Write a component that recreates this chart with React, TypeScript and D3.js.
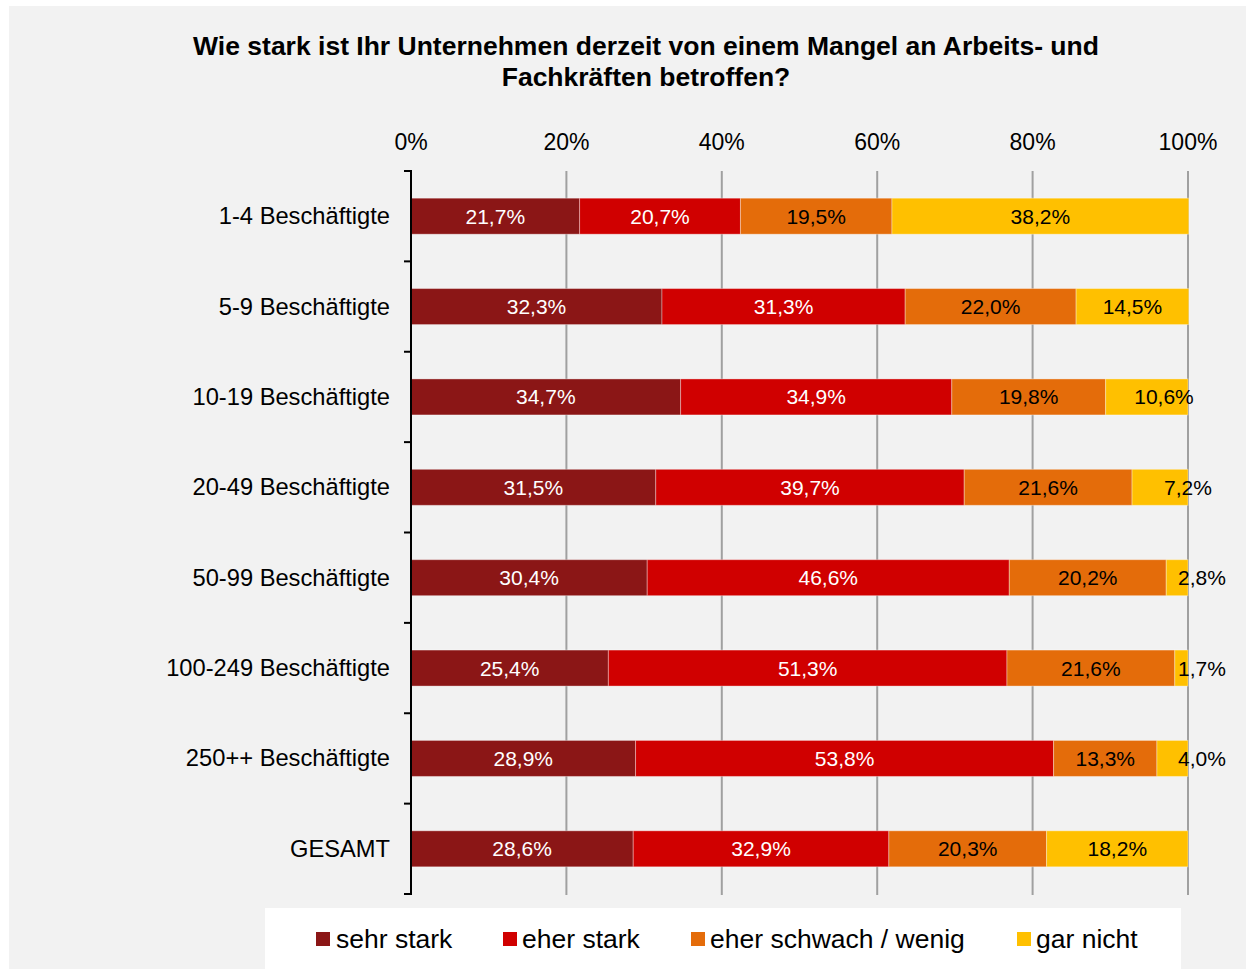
import React from "react";
import * as d3 from "d3";

const categories = [
  "1-4 Beschäftigte",
  "5-9 Beschäftigte",
  "10-19 Beschäftigte",
  "20-49 Beschäftigte",
  "50-99 Beschäftigte",
  "100-249 Beschäftigte",
  "250++ Beschäftigte",
  "GESAMT",
];
const seriesNames = ["sehr stark", "eher stark", "eher schwach / wenig", "gar nicht"];
const sehrStark = [21.7, 32.3, 34.7, 31.5, 30.4, 25.4, 28.9, 28.6];
const eherStark = [20.7, 31.3, 34.9, 39.7, 46.6, 51.3, 53.8, 32.9];
const eherSchwach = [19.5, 22.0, 19.8, 21.6, 20.2, 21.6, 13.3, 20.3];
const garNicht = [38.2, 14.5, 10.6, 7.2, 2.8, 1.7, 4.0, 18.2];
const tickValues = [0, 20, 40, 60, 80, 100];
const titleLines = [
  "Wie stark ist Ihr Unternehmen derzeit von einem Mangel an Arbeits- und",
  "Fachkräften betroffen?",
];

const colors = ["#8b1616", "#d00000", "#e46c0a", "#ffc000"];
const labelColors = ["#ffffff", "#ffffff", "#000000", "#000000"];

const W = 1246;
const H = 972;
const FONT = "'Liberation Sans', Arial, sans-serif";

export default function App() {
  const series = [sehrStark, eherStark, eherSchwach, garNicht];
  const x = d3.scaleLinear().domain([0, 100]).range([411, 1188]);
  const y = d3.scaleBand<string>().domain(categories).range([171, 894]).paddingInner(0).paddingOuter(0);
  const bw = y.bandwidth();
  const barH = 36;

  const stackData = categories.map((c, i) => {
    const row: any = { cat: c };
    seriesNames.forEach((s, j) => (row[s] = series[j][i]));
    return row;
  });
  const stacked = d3.stack<any>().keys(seriesNames)(stackData);

  // label placement for narrow last segments (visual nudge)
  const labelX = (j: number, d: any) => {
    const cx = (x(d[0]) + x(d[1])) / 2;
    if (j === 3) {
      const w = x(d[1]) - x(d[0]);
      if (w < 90) {
        const v = d[1] - d[0];
        return Math.max(cx, x(100) + (v < 5 ? 14 : v < 8 ? 0 : -24));
      }
    }
    return cx;
  };

  const boundaries = d3.range(categories.length + 1).map((k) => 171 + k * bw);

  const legendItems = [
    { sx: 316, tx: 336 },
    { sx: 503, tx: 522 },
    { sx: 691, tx: 710 },
    { sx: 1017, tx: 1036 },
  ];

  return (
    <svg width={W} height={H} style={{ position: "absolute", left: 0, top: 0, fontFamily: FONT }}>
      <rect x={0} y={0} width={W} height={H} fill="#ffffff" />
      <rect x={9} y={6} width={W - 9} height={963} fill="#f2f2f2" />
      {titleLines.map((t, i) => (
        <text key={i} x={646} y={55 + i * 31} textAnchor="middle" fontSize={26.5} fontWeight="bold" fill="#000">
          {t}
        </text>
      ))}
      {/* gridlines */}
      {tickValues.slice(1).map((t) => (
        <line key={t} x1={x(t)} x2={x(t)} y1={171} y2={895} stroke="#a0a0a0" strokeWidth={2} />
      ))}
      {/* tick labels */}
      {tickValues.map((t) => (
        <text key={t} x={x(t)} y={150} textAnchor="middle" fontSize={23} fill="#000">
          {t}%
        </text>
      ))}
      {/* bars */}
      {stacked.map((layer, j) => (
        <g key={j}>
          {layer.map((d, i) => {
            const yc = (y(categories[i]) as number) + bw / 2;
            return (
              <rect
                key={i}
                x={x(d[0])}
                y={yc - barH / 2}
                width={x(d[1]) - x(d[0])}
                height={barH}
                fill={colors[j]}
                stroke="rgba(255,255,255,0.35)"
                strokeWidth={1}
              />
            );
          })}
        </g>
      ))}
      {stacked.map((layer, j) => (
        <g key={"l" + j}>
          {layer.map((d, i) => {
            const yc = (y(categories[i]) as number) + bw / 2;
            const v = series[j][i];
            return (
              <text
                key={i}
                x={labelX(j, d)}
                y={yc + 7.5}
                textAnchor="middle"
                fontSize={21}
                fill={labelColors[j]}
              >
                {v.toFixed(1).replace(".", ",")}%
              </text>
            );
          })}
        </g>
      ))}
      {/* y axis */}
      <line x1={411} x2={411} y1={171} y2={895} stroke="#000" strokeWidth={2} />
      {boundaries.map((b, k) => (
        <line key={k} x1={404} x2={412} y1={b} y2={b} stroke="#000" strokeWidth={2} />
      ))}
      {categories.map((c) => (
        <text
          key={c}
          x={390}
          y={(y(c) as number) + bw / 2 + 8}
          textAnchor="end"
          fontSize={23.7}
          fill="#000"
        >
          {c}
        </text>
      ))}
      {/* legend */}
      <rect x={265} y={908} width={916} height={62} fill="#ffffff" />
      {seriesNames.map((s, j) => (
        <g key={s}>
          <rect x={legendItems[j].sx} y={932} width={14} height={14} fill={colors[j]} />
          <text x={legendItems[j].tx} y={948} fontSize={26.5} fill="#000">
            {s}
          </text>
        </g>
      ))}
    </svg>
  );
}
